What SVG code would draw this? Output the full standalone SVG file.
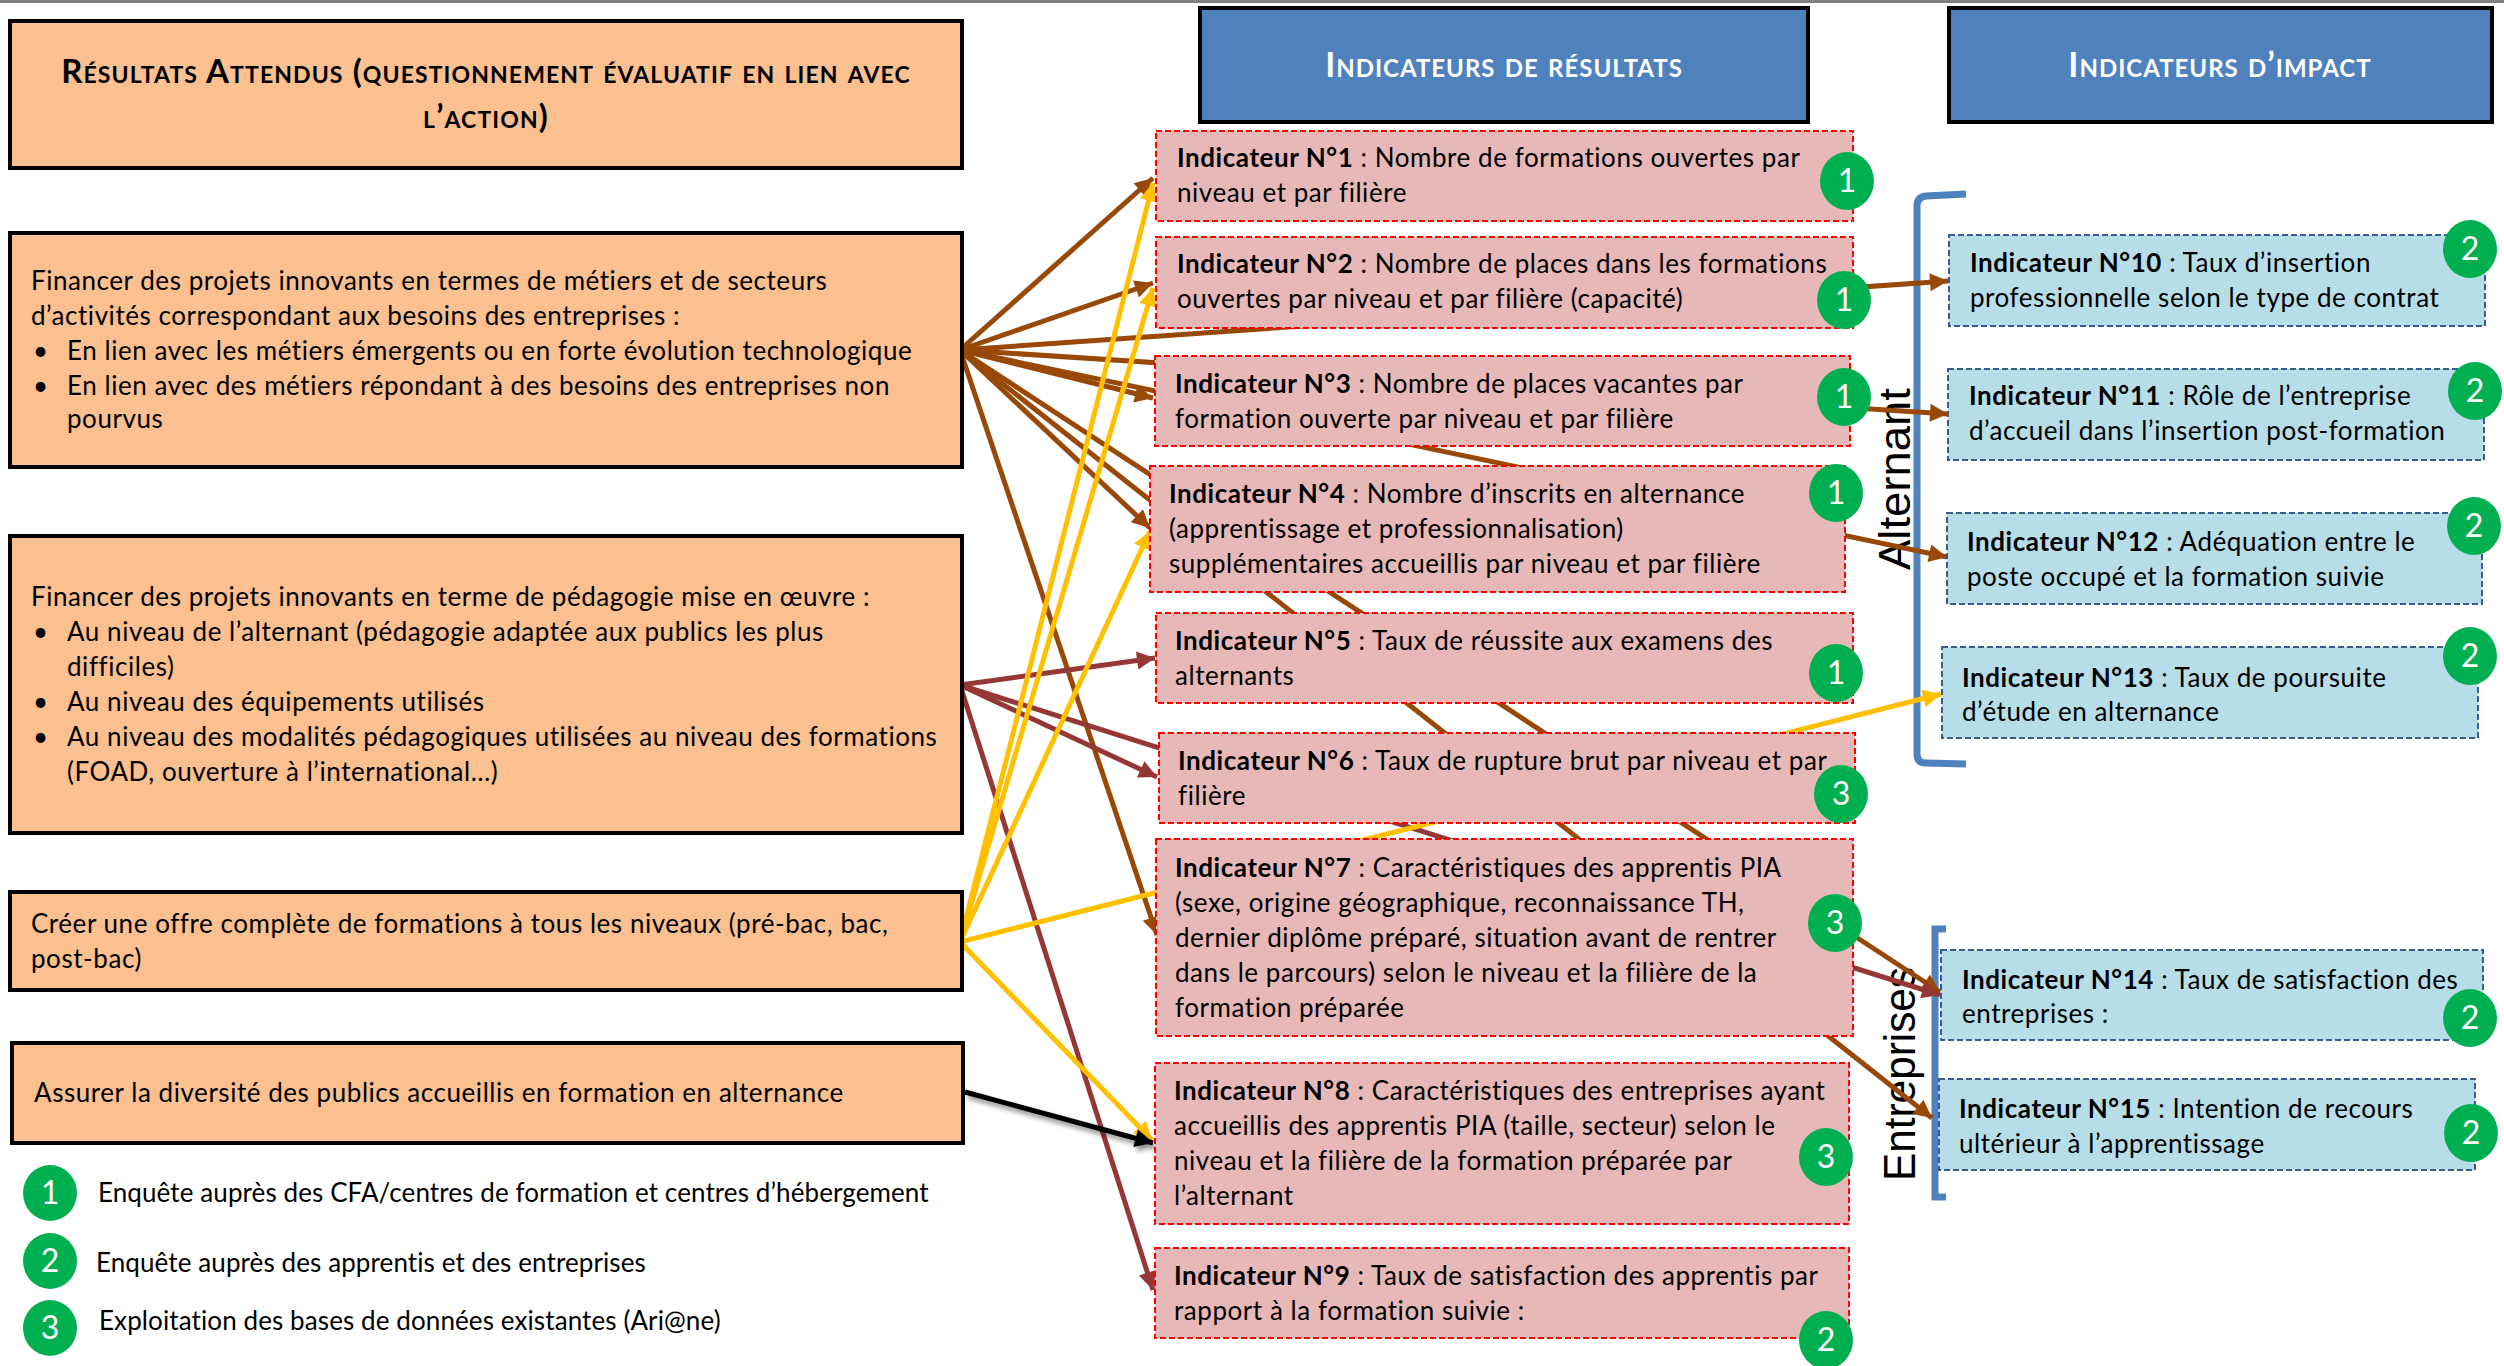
<svg xmlns="http://www.w3.org/2000/svg" width="2504" height="1366" viewBox="0 0 2504 1366">
<defs>
<style>
text{font-family:Lato,"Liberation Sans",sans-serif;font-size:26px;letter-spacing:0.55px;fill:#000}
.src rect{fill:#FAC090;stroke:#000;stroke-width:4}
.ttl{font-weight:bold;font-variant:small-caps;font-size:33px;letter-spacing:1.1px;text-anchor:middle}
.hdr rect{fill:#4F81BD;stroke:#000;stroke-width:4}
.hdr text{fill:#fff;font-weight:bold;font-variant:small-caps;font-size:34px;letter-spacing:1px;text-anchor:middle}
.res rect{fill:#E6B9B8;stroke:#FF0000;stroke-width:2;stroke-dasharray:6 3}
.imp rect{fill:#B7DEE8;stroke:#385D8A;stroke-width:2;stroke-dasharray:6 3}
.b{font-weight:bold}
.bd ellipse{fill:#00B050}
.bd text{fill:#fff;font-size:32px;letter-spacing:0;text-anchor:middle}
.lg{letter-spacing:0.1px}
.brk{fill:none;stroke:#4F81BD;stroke-width:7}
.side{font-family:"Liberation Sans",Arial,sans-serif;font-size:45px;letter-spacing:0;text-anchor:middle}
.cn line{stroke-width:5;fill:none}
.br{stroke:#984807;marker-end:url(#aBr)}
.dr{stroke:#953735;marker-end:url(#aDr)}
.ye{stroke:#FFC000;marker-end:url(#aYe)}
.bk{stroke:#000;marker-end:url(#aBk)}
</style>
<marker id="aBr" viewBox="0 0 10 10" refX="10" refY="5" markerWidth="23" markerHeight="18" markerUnits="userSpaceOnUse" orient="auto"><path d="M0,0 L10,5 L0,10 z" fill="#984807"/></marker>
<marker id="aDr" viewBox="0 0 10 10" refX="10" refY="5" markerWidth="23" markerHeight="18" markerUnits="userSpaceOnUse" orient="auto"><path d="M0,0 L10,5 L0,10 z" fill="#953735"/></marker>
<marker id="aYe" viewBox="0 0 10 10" refX="10" refY="5" markerWidth="23" markerHeight="18" markerUnits="userSpaceOnUse" orient="auto"><path d="M0,0 L10,5 L0,10 z" fill="#FFC000"/></marker>
<marker id="aBk" viewBox="0 0 10 10" refX="10" refY="5" markerWidth="23" markerHeight="18" markerUnits="userSpaceOnUse" orient="auto"><path d="M0,0 L10,5 L0,10 z" fill="#000"/></marker>
<filter id="sh" x="-10%" y="-50%" width="120%" height="200%"><feDropShadow dx="3" dy="4" stdDeviation="2.5" flood-color="#000" flood-opacity="0.45"/></filter>
</defs>
<rect x="0" y="0" width="2504" height="1366" fill="#fff"/>
<rect x="0" y="0" width="2504" height="3" fill="#808080"/>

<g id="brackets">
<path class="brk" d="M1966,194 L1926,196 Q1917,197 1917,206 L1917,754 Q1917,763 1926,763 L1966,764"/>
<path class="brk" d="M1946,929 L1935,929 L1935,1197 L1946,1197"/>
<text class="side" transform="translate(1910,479) rotate(-90)" textLength="182" lengthAdjust="spacingAndGlyphs">Alternant</text>
<text class="side" transform="translate(1915,1074) rotate(-90)" textLength="214" lengthAdjust="spacingAndGlyphs">Entreprises</text>
</g>

<g id="connectors" class="cn">
<line class="br" x1="960" y1="350" x2="1153" y2="178"/>
<line class="br" x1="960" y1="350" x2="1153" y2="283"/>
<line class="br" x1="960" y1="350" x2="1948" y2="281"/>
<line class="br" x1="960" y1="350" x2="1948" y2="414"/>
<line class="br" x1="960" y1="350" x2="1947" y2="557"/>
<line class="br" x1="960" y1="350" x2="1153" y2="398"/>
<line class="br" x1="960" y1="350" x2="1150" y2="528"/>
<line class="br" x1="960" y1="350" x2="1932" y2="1118"/>
<line class="br" x1="960" y1="350" x2="1940" y2="992"/>
<line class="br" x1="960" y1="350" x2="1157" y2="935"/>
<line class="dr" x1="960" y1="685" x2="1155" y2="658"/>
<line class="dr" x1="960" y1="685" x2="1157" y2="777"/>
<line class="dr" x1="960" y1="685" x2="1940" y2="995"/>
<line class="dr" x1="960" y1="685" x2="1153" y2="1290"/>
<line class="ye" x1="960" y1="942" x2="1153" y2="183"/>
<line class="ye" x1="960" y1="942" x2="1153" y2="288"/>
<line class="ye" x1="960" y1="942" x2="1150" y2="531"/>
<line class="ye" x1="960" y1="942" x2="1941" y2="694"/>
<line class="ye" x1="960" y1="942" x2="1152" y2="1140"/>
<line class="bk" x1="965" y1="1092" x2="1153" y2="1143" stroke-width="6" filter="url(#sh)"/>
</g>

<g id="titre" class="src">
<rect x="10" y="21" width="952" height="147"/>
<text class="ttl" x="486" y="83">Résultats Attendus (questionnement évaluatif en lien avec</text>
<text class="ttl" x="486" y="128">l’action)</text>
</g>

<g id="res-metiers" class="src">
<rect x="10" y="233" width="952" height="234"/>
<text x="31" y="290">Financer des projets innovants en termes de métiers et de secteurs</text>
<text x="31" y="325">d’activités correspondant aux besoins des entreprises :</text>
<text x="33" y="360">•</text><text x="67" y="360">En lien avec les métiers émergents ou en forte évolution technologique</text>
<text x="33" y="395">•</text><text x="67" y="395">En lien avec des métiers répondant à des besoins des entreprises non</text>
<text x="67" y="428">pourvus</text>
</g>

<g id="res-pedagogie" class="src">
<rect x="10" y="536" width="952" height="297"/>
<text x="31" y="606">Financer des projets innovants en terme de pédagogie mise en œuvre :</text>
<text x="33" y="641">•</text><text x="67" y="641">Au niveau de l’alternant (pédagogie adaptée aux publics les plus</text>
<text x="67" y="676">difficiles)</text>
<text x="33" y="711">•</text><text x="67" y="711">Au niveau des équipements utilisés</text>
<text x="33" y="746">•</text><text x="67" y="746">Au niveau des modalités pédagogiques utilisées au niveau des formations</text>
<text x="67" y="781">(FOAD, ouverture à l’international…)</text>
</g>

<g id="res-offre" class="src">
<rect x="10" y="892" width="952" height="98"/>
<text x="31" y="933">Créer une offre complète de formations à tous les niveaux (pré-bac, bac,</text>
<text x="31" y="968">post-bac)</text>
</g>

<g id="res-diversite" class="src">
<rect x="12" y="1043" width="951" height="100"/>
<text x="34" y="1102">Assurer la diversité des publics accueillis en formation en alternance</text>
</g>

<g id="hdr-resultats" class="hdr">
<rect x="1200" y="8" width="608" height="114"/>
<text x="1504" y="77">Indicateurs de résultats</text>
</g>
<g id="hdr-impact" class="hdr">
<rect x="1949" y="8" width="543" height="114"/>
<text x="2220" y="77">Indicateurs d’impact</text>
</g>

<g id="ind1" class="res">
<rect x="1156" y="131" width="697" height="90"/>
<text x="1177" y="167"><tspan class="b">Indicateur N°1</tspan> : Nombre de formations ouvertes par</text>
<text x="1177" y="202">niveau et par filière</text>
<g class="bd"><ellipse cx="1847" cy="181" rx="27" ry="29"/><text x="1847" y="192">1</text></g>
</g>
<g id="ind2" class="res">
<rect x="1156" y="237" width="697" height="91"/>
<text x="1177" y="273"><tspan class="b">Indicateur N°2</tspan> : Nombre de places dans les formations</text>
<text x="1177" y="308">ouvertes par niveau et par filière (capacité)</text>
<g class="bd"><ellipse cx="1844" cy="300" rx="27" ry="29"/><text x="1844" y="311">1</text></g>
</g>
<g id="ind3" class="res">
<rect x="1155" y="356" width="695" height="90"/>
<text x="1175" y="393"><tspan class="b">Indicateur N°3</tspan> : Nombre de places vacantes par</text>
<text x="1175" y="428">formation ouverte par niveau et par filière</text>
<g class="bd"><ellipse cx="1844" cy="397" rx="27" ry="29"/><text x="1844" y="408">1</text></g>
</g>
<g id="ind4" class="res">
<rect x="1150" y="466" width="695" height="126"/>
<text x="1169" y="503"><tspan class="b">Indicateur N°4</tspan> : Nombre d’inscrits en alternance</text>
<text x="1169" y="538">(apprentissage et professionnalisation)</text>
<text x="1169" y="573">supplémentaires accueillis par niveau et par filière</text>
<g class="bd"><ellipse cx="1836" cy="493" rx="27" ry="29"/><text x="1836" y="504">1</text></g>
</g>
<g id="ind5" class="res">
<rect x="1156" y="613" width="697" height="90"/>
<text x="1175" y="650"><tspan class="b">Indicateur N°5</tspan> : Taux de réussite aux examens des</text>
<text x="1175" y="685">alternants</text>
<g class="bd"><ellipse cx="1836" cy="673" rx="27" ry="29"/><text x="1836" y="684">1</text></g>
</g>
<g id="ind6" class="res">
<rect x="1159" y="733" width="696" height="90"/>
<text x="1178" y="770"><tspan class="b">Indicateur N°6</tspan> : Taux de rupture brut par niveau et par</text>
<text x="1178" y="805">filière</text>
<g class="bd"><ellipse cx="1841" cy="794" rx="27" ry="29"/><text x="1841" y="805">3</text></g>
</g>
<g id="ind7" class="res">
<rect x="1156" y="839" width="697" height="197"/>
<text x="1175" y="877"><tspan class="b">Indicateur N°7</tspan> : Caractéristiques des apprentis PIA</text>
<text x="1175" y="912">(sexe, origine géographique, reconnaissance TH,</text>
<text x="1175" y="947">dernier diplôme préparé, situation avant de rentrer</text>
<text x="1175" y="982">dans le parcours) selon le niveau et la filière de la</text>
<text x="1175" y="1017">formation préparée</text>
<g class="bd"><ellipse cx="1835" cy="923" rx="27" ry="29"/><text x="1835" y="934">3</text></g>
</g>
<g id="ind8" class="res">
<rect x="1155" y="1063" width="694" height="161"/>
<text x="1174" y="1100"><tspan class="b">Indicateur N°8</tspan> : Caractéristiques des entreprises ayant</text>
<text x="1174" y="1135">accueillis des apprentis PIA (taille, secteur) selon le</text>
<text x="1174" y="1170">niveau et la filière de la formation préparée par</text>
<text x="1174" y="1205">l’alternant</text>
<g class="bd"><ellipse cx="1826" cy="1157" rx="27" ry="29"/><text x="1826" y="1168">3</text></g>
</g>
<g id="ind9" class="res">
<rect x="1155" y="1248" width="694" height="90"/>
<text x="1174" y="1285"><tspan class="b">Indicateur N°9</tspan> : Taux de satisfaction des apprentis par</text>
<text x="1174" y="1320">rapport à la formation suivie :</text>
<g class="bd"><ellipse cx="1826" cy="1340" rx="27" ry="29"/><text x="1826" y="1351">2</text></g>
</g>

<g id="ind10" class="imp">
<rect x="1949" y="235" width="536" height="91"/>
<text x="1970" y="272"><tspan class="b">Indicateur N°10</tspan> : Taux d’insertion</text>
<text x="1970" y="307">professionnelle selon le type de contrat</text>
<g class="bd"><ellipse cx="2470" cy="249" rx="27" ry="29"/><text x="2470" y="260">2</text></g>
</g>
<g id="ind11" class="imp">
<rect x="1948" y="369" width="536" height="91"/>
<text x="1969" y="405"><tspan class="b">Indicateur N°11</tspan> : Rôle de l’entreprise</text>
<text x="1969" y="440">d’accueil dans l’insertion post-formation</text>
<g class="bd"><ellipse cx="2475" cy="391" rx="27" ry="29"/><text x="2475" y="402">2</text></g>
</g>
<g id="ind12" class="imp">
<rect x="1947" y="513" width="535" height="91"/>
<text x="1967" y="551"><tspan class="b">Indicateur N°12</tspan> : Adéquation entre le</text>
<text x="1967" y="586">poste occupé et la formation suivie</text>
<g class="bd"><ellipse cx="2474" cy="526" rx="27" ry="29"/><text x="2474" y="537">2</text></g>
</g>
<g id="ind13" class="imp">
<rect x="1942" y="647" width="536" height="91"/>
<text x="1962" y="687"><tspan class="b">Indicateur N°13</tspan> : Taux de poursuite</text>
<text x="1962" y="721">d’étude en alternance</text>
<g class="bd"><ellipse cx="2470" cy="656" rx="27" ry="29"/><text x="2470" y="667">2</text></g>
</g>
<g id="ind14" class="imp">
<rect x="1941" y="950" width="542" height="90"/>
<text x="1962" y="989"><tspan class="b">Indicateur N°14</tspan> : Taux de satisfaction des</text>
<text x="1962" y="1023">entreprises :</text>
<g class="bd"><ellipse cx="2470" cy="1018" rx="27" ry="29"/><text x="2470" y="1029">2</text></g>
</g>
<g id="ind15" class="imp">
<rect x="1939" y="1079" width="536" height="91"/>
<text x="1959" y="1118"><tspan class="b">Indicateur N°15</tspan> : Intention de recours</text>
<text x="1959" y="1153">ultérieur à l’apprentissage</text>
<g class="bd"><ellipse cx="2471" cy="1133" rx="27" ry="29"/><text x="2471" y="1144">2</text></g>
</g>

<g id="legende">
<g class="bd"><ellipse cx="50" cy="1193" rx="27" ry="28"/><text x="50" y="1204">1</text></g>
<text class="lg" x="98" y="1202">Enquête auprès des CFA/centres de formation et centres d’hébergement</text>
<g class="bd"><ellipse cx="50" cy="1261" rx="27" ry="28"/><text x="50" y="1272">2</text></g>
<text class="lg" x="96" y="1272">Enquête auprès des apprentis et des entreprises</text>
<g class="bd"><ellipse cx="50" cy="1328" rx="27" ry="28"/><text x="50" y="1339">3</text></g>
<text class="lg" x="99" y="1330">Exploitation des bases de données existantes (Ari@ne)</text>
</g>
</svg>
